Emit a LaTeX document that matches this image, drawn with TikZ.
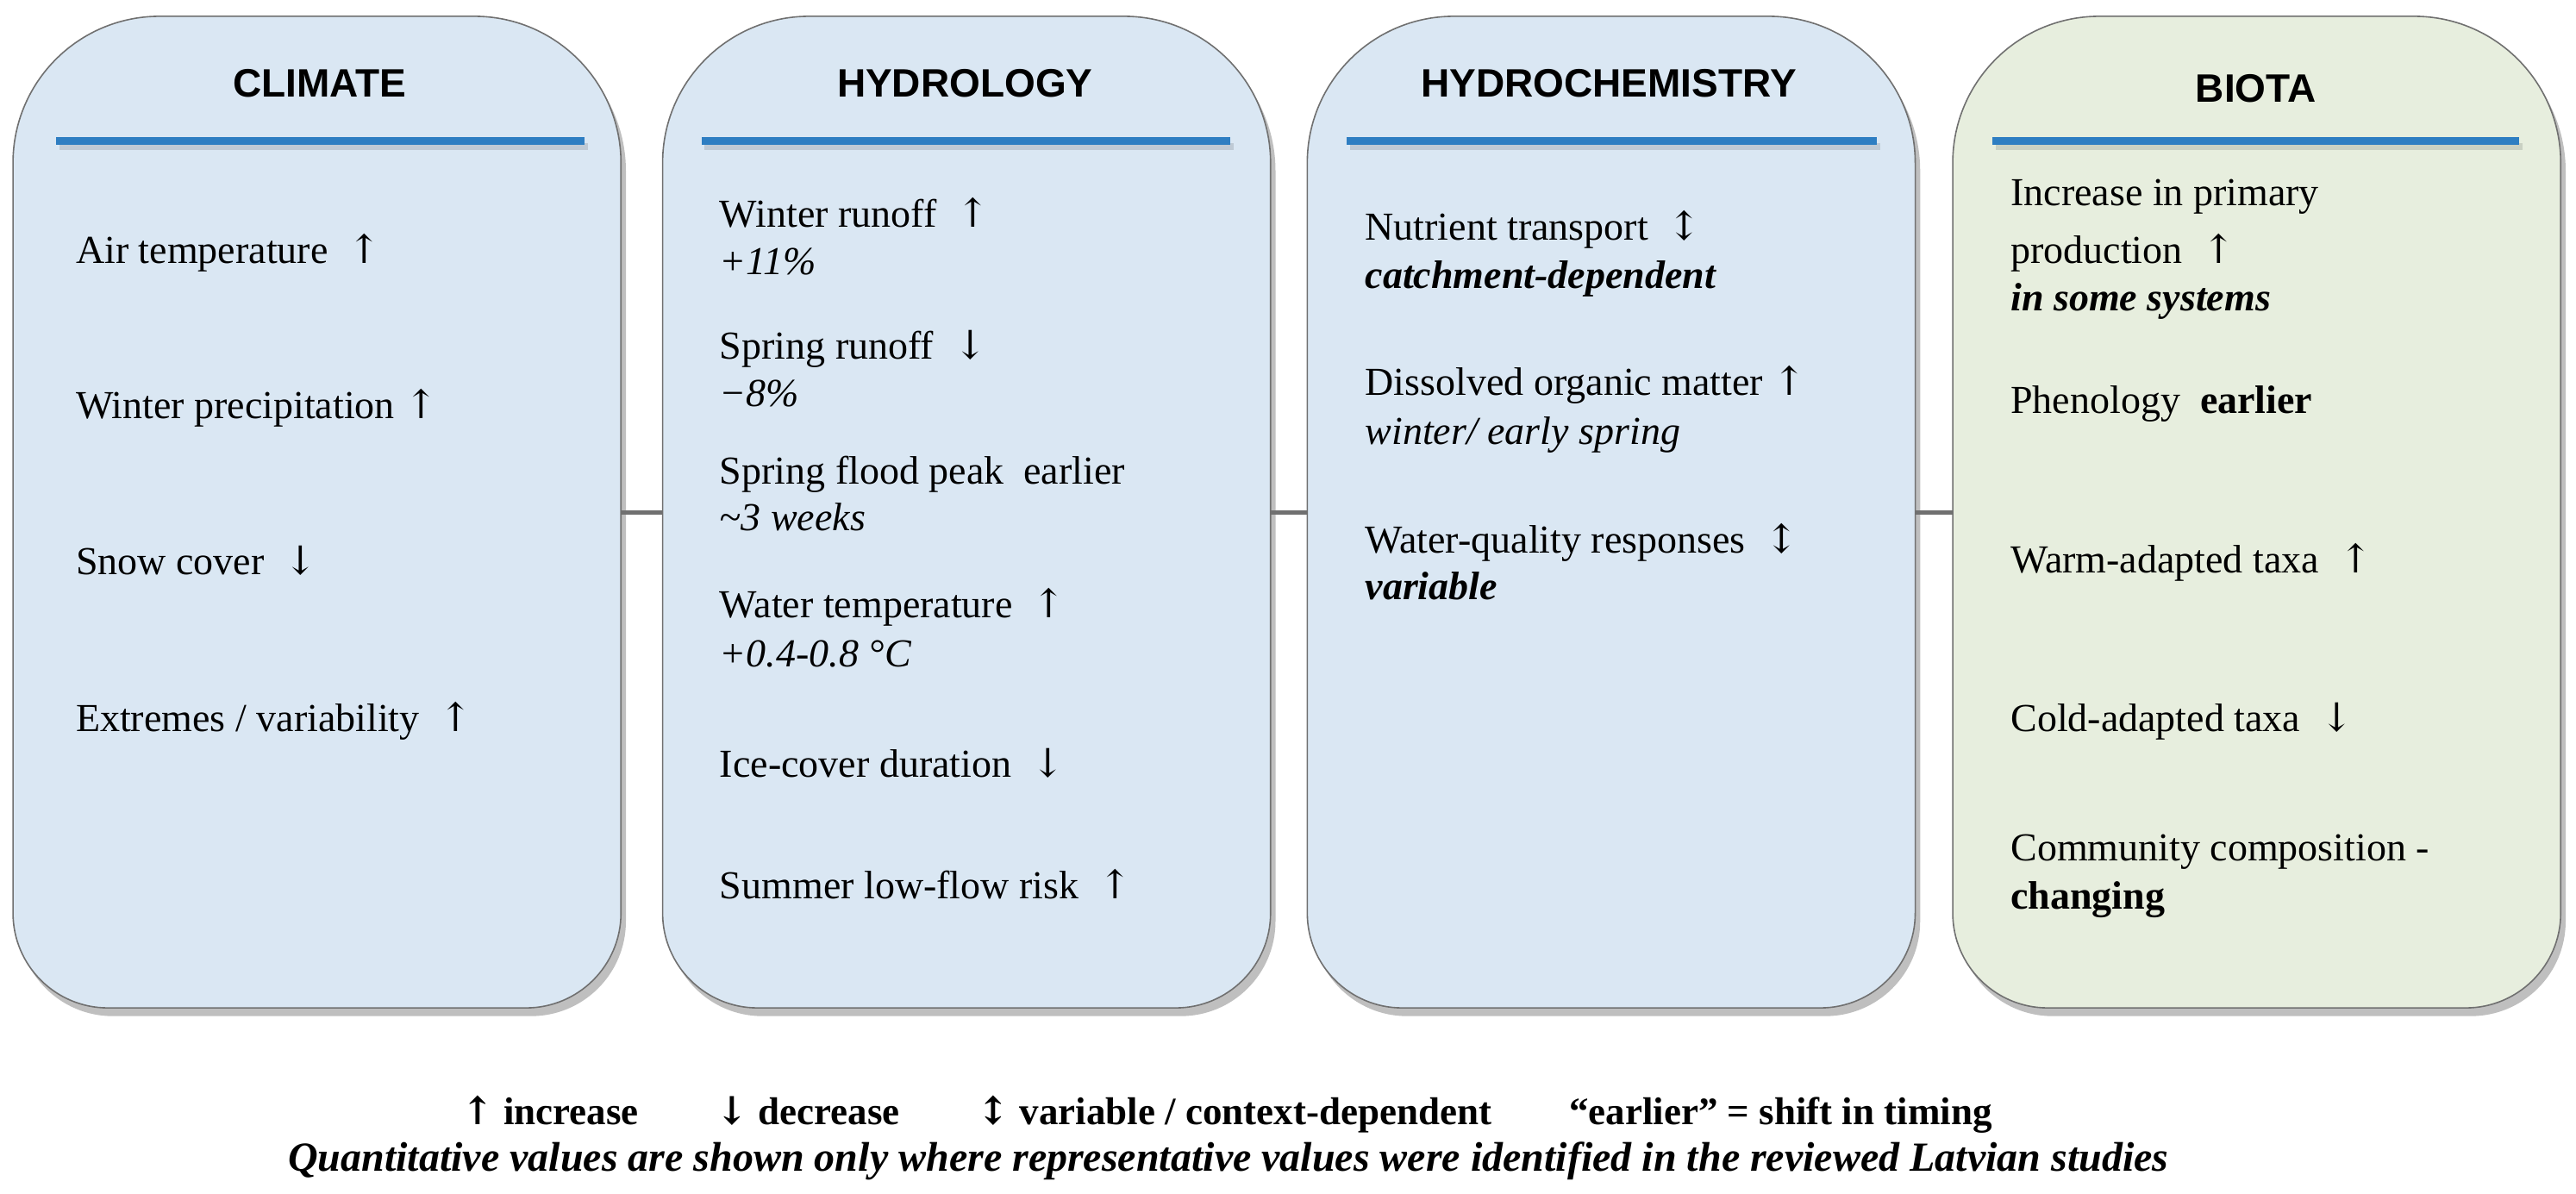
\documentclass[tikz,border=0pt]{standalone}
\usepackage{fontspec}
\setmainfont{Liberation Serif}
\setsansfont{Liberation Sans}
\newfontfamily\arrf{DejaVu Serif}
\newcommand{\myup}{{\arrf\char"2191}}
\newcommand{\mydn}{{\arrf\char"2193}}
\newcommand{\myud}{{\arrf\char"2195}}
\begin{document}
\begin{tikzpicture}[x=1.91pt,y=-1.91pt,
  frame/.style={minimum width=369*1.91pt,minimum height=602*1.91pt,inner sep=0pt,draw=none},
  edge/.style={draw=black!56,line width=1.6pt},
  link/.style={draw=black!56,line width=5pt},
  title/.style={font=\sffamily\bfseries\fontsize{46}{52}\selectfont,anchor=base},
  item/.style={font=\fontsize{46}{52}\selectfont,anchor=base west,inner sep=0pt}]
\definecolor{bluefill}{HTML}{DAE7F3}
\definecolor{greenfill}{HTML}{E7EEDE}
\definecolor{barblue}{HTML}{2E7EC2}
\useasboundingbox (0,0) rectangle (1564.4,725.1);
\node[frame] (c1) at (192.5,311) {};
\node[frame] (c2) at (587,311) {};
\node[frame] (c3) at (978.5,311) {};
\node[frame] (c4) at (1370.5,311) {};
\foreach \n/\f in {c1/bluefill,c2/bluefill,c3/bluefill,c4/greenfill}{
  \fill[black,opacity=.25] ([shift={(3,5)}]\n.west) [rounded corners=170pt] -- ([shift={(3,5)}]\n.north west) -- ([shift={(3,5)}]\n.north east) -- ([shift={(3,5)}]\n.east) [rounded corners=110pt] -- ([shift={(3,5)}]\n.south east) -- ([shift={(3,5)}]\n.south west) -- cycle;
  \draw[edge,fill=\f] (\n.west) [rounded corners=170pt] -- (\n.north west) -- (\n.north east) -- (\n.east) [rounded corners=110pt] -- (\n.south east) -- (\n.south west) -- cycle;
}
\draw[link] (c1.east) -- (c2.west);
\draw[link] (c2.east) -- (c3.west);
\draw[link] (c3.east) -- (c4.west);
% titles & bars
\node[title] (t1) at (194,59) {CLIMATE};
\node[title] (t2) at (586,59) {HYDROLOGY};
\node[title] (t3) at (977,59) {HYDROCHEMISTRY};
\node[title] (t4) at (1370,62) {BIOTA};
\foreach \a/\b in {34/355,426/747,818/1140,1210/1530}{
  \fill[black,opacity=.12] (\a+2,87) rectangle (\b+2,91);
  \fill[barblue] (\a,83) rectangle (\b,88);
}
% climate
\node[item] (a1) at (46,160) {Air temperature \ \myup};
\node[item] (a2) at (46,254) {Winter precipitation \myup};
\node[item] (a3) at (46,349) {Snow cover \ \mydn};
\node[item] (a4) at (46,444) {Extremes / variability \ \myup};
% hydrology
\node[item] (b1) at (437,138) {Winter runoff \ \myup};
\node[item] (b2) at (437,167) {\itshape +11\%};
\node[item] (b3) at (437,218) {Spring runoff \ \mydn};
\node[item] (b4) at (437,247) {\itshape −8\%};
\node[item] (b5) at (437,294) {Spring flood peak\ \ earlier};
\node[item] (b6) at (437,322) {\itshape \textasciitilde3 weeks};
\node[item] (b7) at (437,375) {Water temperature \ \myup};
\node[item] (b8) at (437,405) {\itshape +0.4-0.8 °C};
\node[item] (b9) at (437,472) {Ice-cover duration \ \mydn};
\node[item] (b10) at (437,546) {Summer low-flow risk \ \myup};
% hydrochemistry
\node[item] (h1) at (829,146) {Nutrient transport \ \myud};
\node[item] (h2) at (829,175) {\bfseries\itshape catchment-dependent};
\node[item] (h3) at (829,240) {Dissolved organic matter \myup};
\node[item] (h4) at (829,270) {\itshape winter/ early spring};
\node[item] (h5) at (829,336) {Water-quality responses \ \myud};
\node[item] (h6) at (829,364) {\bfseries\itshape variable};
% biota
\node[item] (d1) at (1221,125) {Increase in primary};
\node[item] (d2) at (1221,160) {production \ \myup};
\node[item] (d3) at (1221,189) {\bfseries\itshape in some systems};
\node[item] (d4) at (1221,251) {Phenology\ \ \textbf{earlier}};
\node[item] (d5) at (1221,348) {Warm-adapted taxa \ \myup};
\node[item] (d6) at (1221,444) {Cold-adapted taxa \ \mydn};
\node[item] (d7) at (1221,523) {Community composition -};
\node[item] (d8) at (1221,552) {\bfseries changing};
% legend
\node[font=\bfseries\fontsize{45}{50}\selectfont,anchor=base] (l1) at (745,683)
  {\myup\ increase\qquad \mydn\ decrease\qquad \myud\ variable / context-dependent\qquad “earlier” = shift in timing};
\node[font=\bfseries\itshape\fontsize{48}{52}\selectfont,anchor=base] (l2) at (746,711)
  {Quantitative values are shown only where representative values were identified in the reviewed Latvian studies};
\end{tikzpicture}
\end{document}
